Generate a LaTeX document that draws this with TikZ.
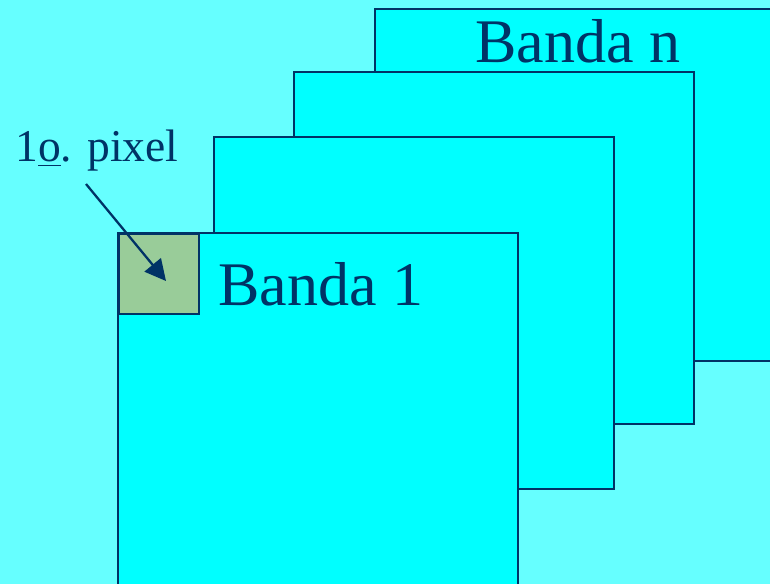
\documentclass[tikz,border=0pt]{standalone}
\usepackage{fontspec}
\setmainfont{Liberation Serif}
\usepackage{tikz}
\usetikzlibrary{arrows.meta}

\definecolor{fundo}{HTML}{66FFFF}
\definecolor{banda}{HTML}{00FFFF}
\definecolor{borda}{HTML}{003366}
\definecolor{pixelcor}{HTML}{99CC99}

\tikzset{
  plano/.style={draw=borda,fill=banda,line width=1.1pt,anchor=north west,
    inner sep=0pt,outer sep=0pt,minimum width=8cm,minimum height=7.04cm},
  rotulo/.style={text=borda,anchor=base west,inner sep=0pt,
    font=\fontsize{35.3}{40}\selectfont}
}

\begin{document}
\begin{tikzpicture}[x=0.02cm,y=-0.02cm,>={Triangle[length=0.42cm,width=0.42cm]}]
      \fill[fundo] (0,0) rectangle (770,584);
      \useasboundingbox (0,0) rectangle (770,584);
      \clip (0,0) rectangle (770,584);
      % bandas, de tras para frente
      \node[plano] (bn) at (375,9) {};
      \node[plano] (b3) at (294,72) {};
      \node[plano] (b2) at (214,137) {};
      \node[plano] (b1) at (118,233) {};
      \node[draw=borda,fill=pixelcor,line width=1.1pt,anchor=north west,inner sep=0pt,
        minimum width=1.6cm,minimum height=1.6cm] (pix) at (118,233) {};
      \node[rotulo] (tbn) at (475,63) {Banda n};
      \node[rotulo] (tb1) at (218,305) {Banda 1};
      \node[text=borda,anchor=base west,inner sep=0pt,font=\fontsize{25.9}{30}\selectfont]
        (tpix) at (15,162) {1\underline{o}. pixel};
      \coordinate (cauda) at (86,184);
      \coordinate (ponta) at (166,281);
      \draw[->,draw=borda,fill=borda,line width=1.3pt] (cauda) -- (ponta);
    \end{tikzpicture}
\end{document}
